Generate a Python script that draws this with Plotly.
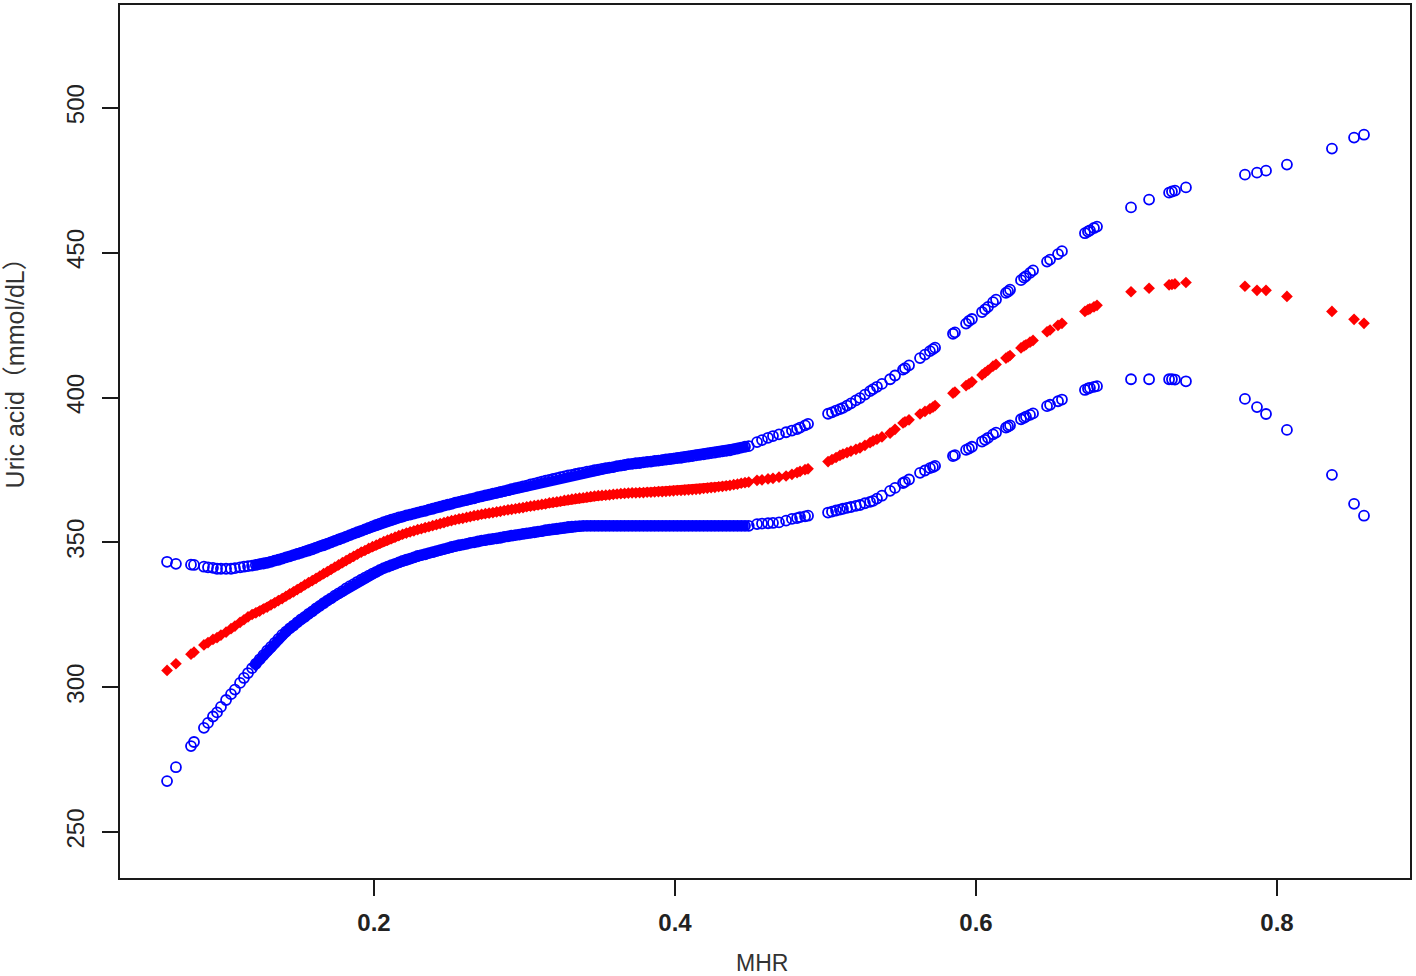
import plotly.graph_objects as go

# ---------------- data ----------------
x_left = [0.0625, 0.0684, 0.0784, 0.0804, 0.0870, 0.0897, 0.0930, 0.0957, 0.0983, 0.1017,
          0.1050, 0.1076, 0.1110, 0.1136, 0.1163]
upper_left = [343.3, 342.6, 342.3, 342.2, 341.6, 341.4, 341.2, 340.9, 340.9, 340.9,
              340.9, 341.1, 341.4, 341.6, 341.8]
fit_left = [305.8, 308.1, 311.4, 312.1, 314.6, 315.4, 316.5, 317.1, 318.0, 319.0,
            320.2, 321.1, 322.4, 323.3, 324.3]
lower_left = [267.6, 272.4, 279.7, 281.1, 286.0, 287.7, 289.9, 291.3, 293.2, 295.6,
              297.6, 299.2, 301.5, 303.2, 304.9]

x_dense = [0.1190, 0.1215, 0.1240, 0.1265, 0.1290, 0.1315, 0.1340, 0.1365, 0.1390, 0.1415,
           0.1440, 0.1465, 0.1490, 0.1515, 0.1540, 0.1565, 0.1590, 0.1615, 0.1640, 0.1665,
           0.1690, 0.1715, 0.1740, 0.1765, 0.1790, 0.1815, 0.1840, 0.1865, 0.1890, 0.1915,
           0.1940, 0.1965, 0.1990, 0.2015, 0.2040, 0.2065, 0.2090, 0.2115, 0.2140, 0.2165,
           0.2190, 0.2215, 0.2240, 0.2265, 0.2290, 0.2315, 0.2340, 0.2365, 0.2390, 0.2415,
           0.2440, 0.2465, 0.2490, 0.2515, 0.2540, 0.2565, 0.2590, 0.2615, 0.2640, 0.2665,
           0.2690, 0.2715, 0.2740, 0.2765, 0.2790, 0.2815, 0.2840, 0.2865, 0.2890, 0.2915,
           0.2940, 0.2965, 0.2990, 0.3015, 0.3040, 0.3065, 0.3090, 0.3115, 0.3140, 0.3165,
           0.3190, 0.3215, 0.3240, 0.3265, 0.3290, 0.3315, 0.3340, 0.3365, 0.3390, 0.3415,
           0.3440, 0.3465, 0.3490, 0.3515, 0.3540, 0.3565, 0.3590, 0.3615, 0.3640, 0.3665,
           0.3690, 0.3715, 0.3740, 0.3765, 0.3790, 0.3815, 0.3840, 0.3865, 0.3890, 0.3915,
           0.3940, 0.3965, 0.3990, 0.4015, 0.4040, 0.4065, 0.4090, 0.4115, 0.4140, 0.4165,
           0.4190, 0.4215, 0.4240, 0.4265, 0.4290, 0.4315, 0.4340, 0.4365, 0.4390, 0.4415,
           0.4440, 0.4465, 0.4490]
upper_dense = [342.0, 342.2, 342.5, 342.7, 342.9, 343.3, 343.7, 344.0, 344.4, 344.8,
               345.2, 345.6, 346.0, 346.4, 346.8, 347.2, 347.6, 348.1, 348.6, 349.0,
               349.5, 350.0, 350.5, 351.0, 351.5, 352.0, 352.5, 353.0, 353.5, 354.0,
               354.5, 355.0, 355.5, 356.0, 356.5, 357.0, 357.4, 357.8, 358.2, 358.6,
               358.9, 359.3, 359.6, 359.9, 360.3, 360.6, 360.9, 361.3, 361.6, 362.0,
               362.3, 362.7, 363.0, 363.3, 363.7, 364.0, 364.3, 364.6, 364.9, 365.2,
               365.6, 365.9, 366.2, 366.5, 366.8, 367.1, 367.4, 367.7, 368.0, 368.4,
               368.7, 369.0, 369.3, 369.6, 370.0, 370.3, 370.6, 371.0, 371.3, 371.6,
               371.9, 372.2, 372.5, 372.8, 373.1, 373.3, 373.6, 373.9, 374.1, 374.4,
               374.6, 374.9, 375.1, 375.4, 375.6, 375.8, 376.0, 376.3, 376.5, 376.7,
               377.0, 377.1, 377.3, 377.4, 377.6, 377.8, 377.9, 378.1, 378.2, 378.4,
               378.6, 378.7, 378.9, 379.1, 379.2, 379.4, 379.6, 379.8, 380.0, 380.2,
               380.4, 380.6, 380.8, 381.0, 381.2, 381.4, 381.6, 381.8, 382.1, 382.4,
               382.7, 383.0, 383.2]
fit_dense = [325.1, 325.7, 326.3, 327.0, 327.6, 328.4, 329.1, 329.9, 330.6, 331.4,
             332.2, 332.9, 333.7, 334.5, 335.3, 336.1, 336.8, 337.6, 338.4, 339.2,
             339.9, 340.7, 341.5, 342.2, 343.0, 343.7, 344.5, 345.2, 345.9, 346.6,
             347.2, 347.9, 348.5, 349.1, 349.7, 350.3, 350.8, 351.3, 351.8, 352.3,
             352.8, 353.2, 353.6, 354.0, 354.4, 354.7, 355.1, 355.4, 355.8, 356.1,
             356.5, 356.8, 357.2, 357.5, 357.8, 358.1, 358.3, 358.6, 358.9, 359.2,
             359.4, 359.7, 359.9, 360.1, 360.3, 360.5, 360.7, 361.0, 361.2, 361.4,
             361.6, 361.8, 362.0, 362.3, 362.5, 362.7, 362.9, 363.1, 363.3, 363.6,
             363.8, 364.0, 364.2, 364.5, 364.7, 364.9, 365.1, 365.3, 365.4, 365.6,
             365.8, 366.0, 366.1, 366.2, 366.3, 366.4, 366.6, 366.7, 366.8, 366.9,
             367.0, 367.1, 367.1, 367.2, 367.2, 367.3, 367.3, 367.4, 367.5, 367.5,
             367.6, 367.7, 367.8, 367.9, 367.9, 368.0, 368.1, 368.2, 368.3, 368.4,
             368.6, 368.7, 368.9, 369.0, 369.2, 369.3, 369.5, 369.7, 369.9, 370.1,
             370.4, 370.6, 370.8]
lower_dense = [306.6, 308.1, 309.6, 311.1, 312.6, 313.9, 315.3, 316.7, 318.1, 319.2,
               320.3, 321.3, 322.4, 323.4, 324.3, 325.3, 326.2, 327.2, 328.1, 329.0,
               329.9, 330.7, 331.6, 332.4, 333.2, 334.1, 334.9, 335.6, 336.4, 337.1,
               337.8, 338.5, 339.2, 339.8, 340.5, 341.1, 341.6, 342.1, 342.6, 343.1,
               343.6, 344.0, 344.4, 344.8, 345.3, 345.6, 345.9, 346.3, 346.6, 347.0,
               347.3, 347.7, 348.0, 348.4, 348.7, 349.0, 349.2, 349.5, 349.8, 350.0,
               350.3, 350.6, 350.8, 351.0, 351.2, 351.4, 351.6, 351.9, 352.1, 352.3,
               352.5, 352.7, 352.9, 353.1, 353.3, 353.5, 353.7, 353.9, 354.2, 354.4,
               354.6, 354.7, 354.9, 355.1, 355.3, 355.4, 355.5, 355.6, 355.7, 355.7,
               355.7, 355.7, 355.7, 355.7, 355.7, 355.7, 355.7, 355.7, 355.7, 355.7,
               355.7, 355.7, 355.7, 355.7, 355.7, 355.7, 355.7, 355.7, 355.7, 355.7,
               355.7, 355.7, 355.7, 355.7, 355.7, 355.7, 355.7, 355.7, 355.7, 355.7,
               355.7, 355.7, 355.7, 355.7, 355.7, 355.7, 355.7, 355.7, 355.7, 355.7,
               355.7, 355.7, 355.7]

x_right = [0.4545, 0.4578, 0.4618, 0.4651, 0.4691, 0.4738, 0.4777, 0.4811, 0.4831, 0.4864, 0.4884,
           0.5017, 0.5043, 0.5070, 0.5096, 0.5116, 0.5143, 0.5169, 0.5202, 0.5229, 0.5262, 0.5296,
           0.5316, 0.5342, 0.5375,
           0.5429, 0.5462, 0.5515, 0.5528, 0.5555, 0.5628, 0.5661, 0.5694, 0.5714, 0.5728,
           0.5847, 0.5860, 0.5934, 0.5953, 0.5973, 0.6040, 0.6060, 0.6080, 0.6113, 0.6133,
           0.6199, 0.6213, 0.6226, 0.6299, 0.6319, 0.6332, 0.6359, 0.6379,
           0.6472, 0.6492, 0.6545, 0.6571, 0.6724, 0.6744, 0.6757, 0.6784, 0.6804,
           0.7030, 0.7150, 0.7283, 0.7302, 0.7322, 0.7395,
           0.7787, 0.7867, 0.7927, 0.8066, 0.8365, 0.8512, 0.8578]
upper_right = [384.6, 385.3, 386.1, 386.7, 387.3, 388.0, 388.6, 389.1, 389.6, 390.4, 390.9,
               394.4, 394.9, 395.5, 396.0, 396.4, 397.2, 398.0, 399.0, 399.8, 401.0, 402.2,
               402.9, 403.7, 404.7,
               406.3, 407.6, 409.6, 410.1, 411.1, 413.6, 414.8, 416.0, 416.7, 417.2,
               422.0, 422.5, 425.5, 426.4, 427.1, 429.5, 430.4, 431.3, 432.9, 433.8,
               436.1, 436.6, 437.2, 440.5, 441.4, 441.9, 443.0, 443.9,
               446.9, 447.6, 449.5, 450.5, 456.7, 457.3, 457.7, 458.5, 459.0,
               465.6, 468.3, 470.7, 471.1, 471.4, 472.5,
               476.9, 477.6, 478.3, 480.4, 485.9, 489.7, 490.7]
fit_right = [371.4, 371.6, 371.9, 372.1, 372.5, 372.9, 373.5, 374.1, 374.5, 375.1, 375.4,
             377.9, 378.6, 379.3, 380.0, 380.5, 381.0, 381.5, 382.1, 382.6, 383.5, 384.4,
             385.0, 385.6, 386.4,
             387.7, 389.0, 391.2, 391.6, 392.3, 394.3, 395.2, 396.1, 396.7, 397.2,
             401.5, 401.9, 404.1, 404.7, 405.4, 407.8, 408.6, 409.4, 410.8, 411.4,
             413.6, 414.0, 414.5, 417.1, 417.8, 418.2, 419.1, 419.7,
             422.7, 423.3, 424.9, 425.6, 429.7, 430.3, 430.6, 431.3, 431.8,
             436.5, 437.7, 438.9, 439.0, 439.2, 439.7,
             438.4, 437.0, 437.0, 434.9, 429.7, 427.0, 425.6]
lower_right = [356.3, 356.5, 356.6, 356.7, 356.9, 357.5, 358.1, 358.4, 358.7, 359.0, 359.2,
               360.3, 360.6, 361.0, 361.3, 361.6, 361.9, 362.2, 362.6, 362.9, 363.5, 364.0,
               364.3, 365.1, 366.1,
               367.8, 368.8, 370.5, 370.9, 371.7, 374.0, 374.8, 375.6, 376.0, 376.4,
               379.8, 380.1, 381.9, 382.4, 383.0, 384.8, 385.4, 386.1, 387.3, 387.9,
               389.6, 390.0, 390.4, 392.5, 393.0, 393.4, 394.0, 394.5,
               397.0, 397.5, 398.7, 399.3, 402.6, 403.1, 403.3, 403.7, 403.9,
               406.3, 406.3, 406.3, 406.3, 406.2, 405.6,
               399.5, 396.7, 394.3, 388.8, 373.3, 363.3, 359.2]

x_ticks = [0.2, 0.4, 0.6, 0.8]
x_ticklabels = ["0.2", "0.4", "0.6", "0.8"]
y_ticks = [250, 300, 350, 400, 450, 500]
y_ticklabels = ["250", "300", "350", "400", "450", "500"]
x_title = "MHR"
y_title = "Uric acid（mmol/dL）"

mhr = x_left + x_dense + x_right
upper = upper_left + upper_dense + upper_right
fit = fit_left + fit_dense + fit_right
lower = lower_left + lower_dense + lower_right

# ---------------- figure ----------------
BLUE = "#0000FF"
RED = "#FF0000"
FRAME = "#1a1a1a"
FONT = "Liberation Sans, Arial, Noto Sans CJK SC, sans-serif"

fig = go.Figure()

# where the observations are packed tightly the point cloud reads as a solid band
for yy, w, col in ((fit_dense, 8, RED), (upper_dense, 10, BLUE), (lower_dense, 10, BLUE)):
    fig.add_trace(go.Scatter(x=x_dense, y=yy, mode="lines", hoverinfo="skip",
                             line=dict(color=col, width=w)))

fig.add_trace(go.Scatter(x=mhr, y=fit, mode="markers",
                         marker=dict(symbol="diamond", size=9, color=RED, line=dict(width=0))))
fig.add_trace(go.Scatter(x=mhr, y=upper, mode="markers",
                         marker=dict(symbol="circle-open", size=10, color=BLUE,
                                     line=dict(width=1.8, color=BLUE))))
fig.add_trace(go.Scatter(x=mhr, y=lower, mode="markers",
                         marker=dict(symbol="circle-open", size=10, color=BLUE,
                                     line=dict(width=1.8, color=BLUE))))

fig.update_layout(
    width=1416, height=976,
    margin=dict(l=120, r=6, t=3, b=98),
    paper_bgcolor="white", plot_bgcolor="white",
    showlegend=False,
    font=dict(family=FONT, color="#222222"),
)
fig.update_xaxes(
    range=[0.03123, 0.88837],
    tickmode="array", tickvals=x_ticks, ticktext=x_ticklabels,
    ticks="outside", ticklen=16, tickwidth=2, tickcolor=FRAME,
    showline=True, mirror=True, linecolor=FRAME, linewidth=2,
    showgrid=False, zeroline=False,
    tickfont=dict(size=24, family=FONT, weight="bold", color="#222222"),
    ticklabelstandoff=6,
)
fig.update_yaxes(
    range=[234.16, 535.47],
    tickmode="array", tickvals=y_ticks, ticktext=y_ticklabels,
    tickangle=-90,
    ticks="outside", ticklen=16, tickwidth=2, tickcolor=FRAME,
    showline=True, mirror=True, linecolor=FRAME, linewidth=2,
    showgrid=False, zeroline=False,
    tickfont=dict(size=24, family=FONT, color="#222222"),
    ticklabelstandoff=8,
)
fig.add_annotation(text=x_title, xref="paper", yref="paper", x=0.498, y=-0.0971,
                   xanchor="center", yanchor="middle", showarrow=False,
                   font=dict(size=23, family=FONT, color="#333333"))
fig.add_annotation(text=y_title, xref="paper", yref="paper", x=-0.0814, y=0.586,
                   xanchor="center", yanchor="middle", showarrow=False, textangle=-90,
                   font=dict(size=25, family=FONT, color="#333333"))

fig.write_html("out.html", config={"displayModeBar": False},
               post_script="document.body.style.margin='0px';")
